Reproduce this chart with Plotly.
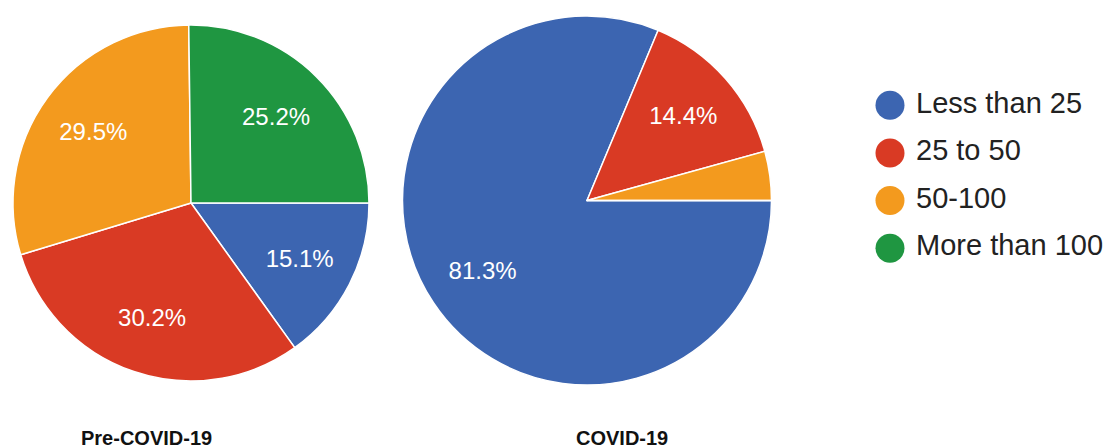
import plotly.graph_objects as go

categories = ["Less than 25", "25 to 50", "50-100", "More than 100"]
pre_covid = [15.1, 30.2, 29.5, 25.2]
covid = [81.3, 14.4, 4.3, 0.0]
titles = ["Pre-COVID-19", "COVID-19"]
colors = ["#3c65b1", "#d93a24", "#f39a1e", "#1f9641"]

# page body has an 8px margin: figure is placed at (8, 8)
OFF = 8
W, H = 1116 - OFF, 448 - OFF
FONT = "Arial, Liberation Sans, sans-serif"


def px(x):
    return (x - OFF) / W


def py(y):
    return 1 - (y - OFF) / H


def labels(vals):
    return [f"{v:.1f}%" if v >= 5 else "" for v in vals]


fig = go.Figure()

pie_domains = [
    dict(x=[px(12), px(370)], y=[py(381), py(25)]),
    dict(x=[px(402), px(772)], y=[py(385), py(16)]),
]

for vals, dom in zip([pre_covid, covid], pie_domains):
    # coloured slices
    fig.add_trace(go.Pie(
        labels=categories, values=vals,
        textinfo="none",
        marker=dict(colors=colors, line=dict(color="white", width=1.5)),
        sort=False, direction="clockwise", rotation=90,
        domain=dom, showlegend=False, hoverinfo="label+percent",
    ))
    # percentage labels, placed out toward the rim
    fig.add_trace(go.Pie(
        labels=categories, values=vals,
        text=labels(vals), textinfo="text",
        textposition="inside", insidetextorientation="horizontal",
        textfont=dict(family=FONT, size=24, color="white"),
        marker=dict(colors=["rgba(0,0,0,0)"] * len(vals), line=dict(width=0)),
        hole=0.36,
        sort=False, direction="clockwise", rotation=90,
        domain=dom, showlegend=False, hoverinfo="skip",
    ))

# custom legend with large circular markers
fig.add_trace(go.Scatter(
    x=[890] * len(categories), y=categories,
    mode="markers",
    marker=dict(size=29, color=colors, symbol="circle"),
    cliponaxis=False, showlegend=False, hoverinfo="skip",
))
fig.add_trace(go.Scatter(
    x=[916] * len(categories), y=categories,
    mode="text",
    text=categories,
    textposition="middle right",
    textfont=dict(family=FONT, size=29, color="#222222"),
    cliponaxis=False, showlegend=False, hoverinfo="skip",
))

title_x = [146.5, 621.5]
for t, x in zip(titles, title_x):
    fig.add_annotation(
        text=f"<b>{t}</b>", x=px(x), y=py(438), xref="paper", yref="paper",
        xanchor="center", yanchor="middle", showarrow=False,
        font=dict(family=FONT, size=20, color="#111111"),
    )

fig.update_layout(
    width=W, height=H,
    margin=dict(l=0, r=0, t=0, b=0),
    paper_bgcolor="white", plot_bgcolor="white",
    xaxis=dict(domain=[px(876), 1], range=[876, 1116], visible=False, fixedrange=True),
    yaxis=dict(domain=[py(272), py(81.5)], type="category",
               categoryorder="array", categoryarray=categories,
               range=[3.5, -0.5], visible=False, fixedrange=True),
)

fig.write_html("out.html")
